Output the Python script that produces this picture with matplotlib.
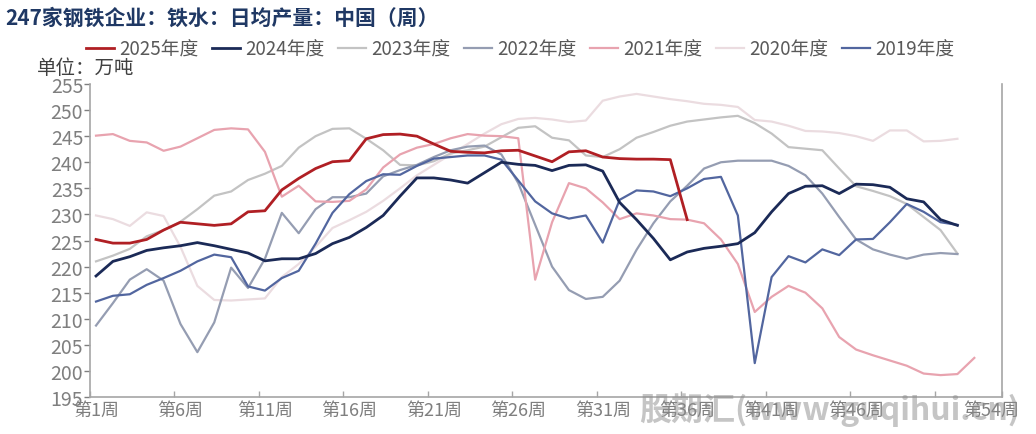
import matplotlib
matplotlib.use('Agg')
import matplotlib.pyplot as plt

plt.rcParams['font.family'] = ['Noto Sans CJK SC', 'DejaVu Sans']

# 数据：每年按周的铁水日均产量（万吨），第1周起
y2025 = [225.2, 224.5, 224.5, 225.2, 227.0, 228.5, 228.2, 227.9, 228.2, 230.5,
         230.7, 234.7, 236.9, 238.8, 240.1, 240.3, 244.5, 245.3, 245.4, 245.0,
         243.5, 242.1, 241.9, 241.8, 242.2, 242.3, 241.2, 240.1, 242.0, 242.2,
         241.0, 240.7, 240.6, 240.6, 240.5, 229.0]
y2024 = [218.2, 221.0, 221.9, 223.1, 223.6, 224.0, 224.6, 224.0, 223.3, 222.6,
         221.1, 221.5, 221.5, 222.5, 224.4, 225.6, 227.5, 229.8, 233.5, 237.0,
         237.0, 236.6, 236.0, 238.0, 240.0, 239.6, 239.4, 238.4, 239.4, 239.5,
         238.3, 232.3, 229.0, 225.4, 221.3, 222.8, 223.5, 223.9, 224.4, 226.5,
         230.5, 234.0, 235.4, 235.5, 234.0, 235.8, 235.7, 235.2, 233.0, 232.4,
         229.0, 227.9]
y2023 = [221.0, 222.1, 223.4, 225.8, 227.0, 228.6, 231.0, 233.6, 234.4, 236.6,
         237.8, 239.3, 242.8, 245.0, 246.4, 246.5, 244.5, 242.3, 239.5, 239.4,
         240.2, 241.7, 242.3, 243.0, 244.8, 246.6, 246.9, 244.7, 244.2, 241.3,
         241.0, 242.5, 244.7, 245.8, 247.0, 247.8, 248.2, 248.6, 248.9, 247.5,
         245.5, 242.9, 242.6, 242.3, 238.8, 235.4, 234.5, 233.5, 232.0, 229.5,
         227.0, 222.5]
y2022 = [208.7, 213.0, 217.5, 219.5, 217.3, 209.0, 203.6, 209.3, 219.8, 215.9,
         221.5, 230.3, 226.4, 231.0, 233.3, 233.3, 234.0, 237.3, 238.5, 239.5,
         241.0, 242.3, 243.0, 243.2, 241.5, 236.0, 228.0, 220.0, 215.5, 213.8,
         214.2, 217.3, 223.2, 228.3, 232.5, 235.5, 238.8, 240.0, 240.3, 240.3,
         240.3, 239.3, 237.5, 234.0, 229.5, 225.2, 223.3, 222.3, 221.5, 222.3,
         222.6, 222.4]
y2021 = [245.1, 245.4, 244.1, 243.8, 242.2, 243.0, 244.6, 246.2, 246.5, 246.3,
         242.0, 233.4, 235.5, 232.5, 232.4, 232.6, 234.8, 239.0, 241.5, 242.8,
         243.5, 244.6, 245.4, 245.1, 245.0, 244.6, 217.5, 228.5, 236.0, 235.0,
         232.3, 229.1, 230.2, 229.8, 229.1, 229.0, 228.3, 225.2, 220.5, 211.3,
         214.2, 216.3, 215.0, 212.0, 206.5, 204.1, 203.0, 202.0, 201.0, 199.5,
         199.2, 199.4, 202.5]
y2020 = [229.8, 229.1, 227.8, 230.4, 229.7, 223.8, 216.3, 213.6, 213.5, 213.7,
         213.9, 218.0, 220.5, 223.8, 227.4, 228.9, 230.5, 232.6, 235.0, 237.5,
         239.5, 241.5, 243.5, 245.5, 247.3, 248.3, 248.5, 248.2, 247.7, 248.0,
         251.8, 252.6, 253.1, 252.6, 252.1, 251.7, 251.2, 251.0, 250.6, 248.1,
         247.8, 247.0, 246.0, 245.9, 245.6, 245.0, 244.1, 246.1, 246.1, 244.0,
         244.1, 244.5]
y2019 = [213.3, 214.4, 214.7, 216.5, 217.8, 219.2, 221.0, 222.3, 221.8, 216.2,
         215.4, 217.8, 219.2, 224.4, 230.3, 233.9, 236.4, 237.7, 237.6, 239.3,
         240.7, 241.0, 241.3, 241.3, 240.5, 236.5, 232.5, 230.2, 229.2, 229.8,
         224.6, 232.8, 234.6, 234.4, 233.5, 235.0, 236.8, 237.2, 229.8, 201.5,
         218.0, 222.0, 220.8, 223.3, 222.2, 225.2, 225.3, 228.5, 232.0, 230.5,
         228.5, 228.0]

labels = ['2025年度', '2024年度', '2023年度', '2022年度', '2021年度', '2020年度', '2019年度']
colors = ['#B01F24', '#1B2A57', '#C3C3C3', '#959DB2', '#E8A3AF', '#EBDCE0', '#52669F']
series = [y2025, y2024, y2023, y2022, y2021, y2020, y2019]

xtick_weeks = [1, 6, 11, 16, 21, 26, 31, 36, 41, 46, 54]
xtick_labels = ['第1周', '第6周', '第11周', '第16周', '第21周', '第26周', '第31周',
                '第36周', '第41周', '第46周', '第54周']

fig = plt.figure(figsize=(10.36, 4.35), dpi=100)
ax = fig.add_axes([0.0869, 0.085, 0.8803, 0.7196])

widths = [2.0, 2.0, 1.6, 1.6, 1.6, 1.6, 1.6]
zorders = [9, 8, 3, 4, 5, 2, 6]
for ys, lab, c, lw, z in zip(series, labels, colors, widths, zorders):
    weeks = list(range(1, len(ys) + 1))
    ax.plot(weeks, ys, color=c, lw=lw, label=lab, zorder=z)

# 分类轴：刻度线在两周之间，标签居中
x0, x1 = 0.645, 54.64
ax.set_xlim(x0, x1)
ax.set_ylim(195, 255)
ax.set_yticks(range(195, 256, 5))
ax.set_xticks(xtick_weeks)
ax.set_xticklabels(xtick_labels)
ax.set_xticks([x0 + 5 * k for k in range(11)] + [x1], minor=True)
ax.tick_params(axis='y', labelsize=14, colors='#7F7F7F', length=4, width=1, pad=1)
ax.tick_params(axis='x', which='major', labelsize=13, colors='#7F7F7F', length=0, pad=3)
ax.tick_params(axis='x', which='minor', colors='#A6A6A6', length=4, width=1, direction='in')
for s in ['left', 'bottom', 'right']:
    ax.spines[s].set_color('#A6A6A6')
    ax.spines[s].set_linewidth(1.2)
ax.spines['top'].set_visible(False)

fig.text(0.005, 0.958, '247家钢铁企业：铁水：日均产量：中国（周）', fontsize=15,
         fontweight='bold', color='#1F3864', va='center')
fig.text(0.036, 0.843, '单位：万吨', fontsize=14, color='#404040', va='center')

fig.legend(loc='center', bbox_to_anchor=(0.502, 0.885), ncol=7, frameon=False,
           fontsize=13.5, labelcolor='#595959', handlelength=1.5, handletextpad=0.25,
           columnspacing=0.75)

fig.text(0.617, 0.058, '股期汇(www.guqihui.cn)', fontsize=23, fontweight='bold',
         style='italic', color='#8C8C8C', alpha=0.5, va='center', zorder=20)

fig.savefig('out.png', dpi=100)
